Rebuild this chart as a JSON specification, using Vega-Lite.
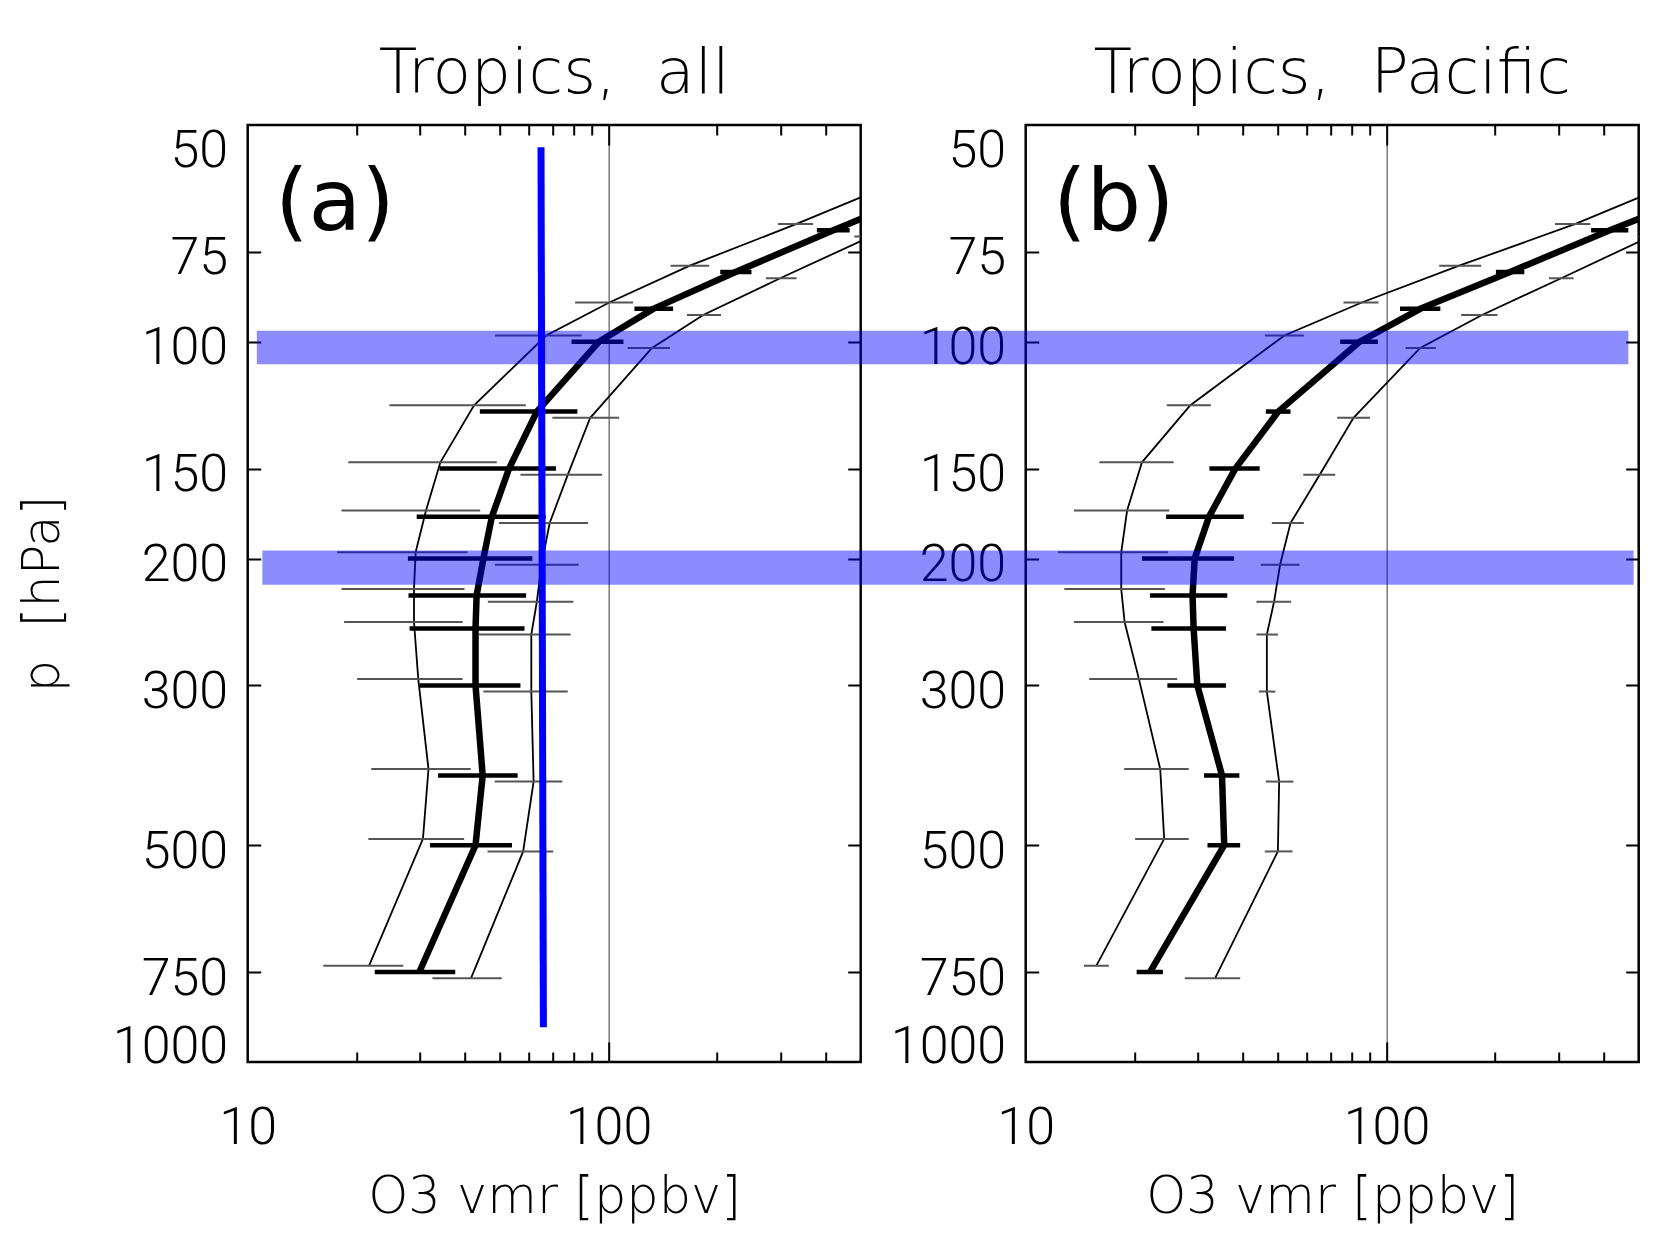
{
  "$schema": "https://vega.github.io/schema/vega-lite/v6.json",
  "autosize": {"type": "none"},
  "padding": {"left": 247.7, "top": 125, "right": 1412.3, "bottom": 1112},
  "background": "white",
  "config": {
    "view": {"stroke": "black", "strokeWidth": 2.5},
    "axis": {"domain": false, "grid": false, "labelFont": "Roboto", "labelFontWeight": 300, "labelFontSize": 52, "labelColor": "black", "tickColor": "black", "tickWidth": 2, "titleFont": "DejaVu Sans", "titleFontWeight": 200, "titleFontSize": 51, "titleColor": "black", "labelOverlap": false},
    "title": {"font": "DejaVu Sans", "fontWeight": 200, "fontSize": 63, "color": "black", "baseline": "alphabetic", "offset": 18, "anchor": "middle", "frame": "group"}
  },
  "datasets": {
    "prof": [
      {"panel": "a", "s": "mean", "p": 60, "v": 880, "lo": 800, "hi": 960},
      {"panel": "a", "s": "mean", "p": 70, "v": 420, "lo": 378, "hi": 466},
      {"panel": "a", "s": "mean", "p": 80, "v": 225, "lo": 204, "hi": 249},
      {"panel": "a", "s": "mean", "p": 90, "v": 133, "lo": 118, "hi": 151},
      {"panel": "a", "s": "mean", "p": 100, "v": 94, "lo": 79, "hi": 110},
      {"panel": "a", "s": "mean", "p": 125, "v": 63.3, "lo": 44, "hi": 82},
      {"panel": "a", "s": "mean", "p": 150, "v": 53, "lo": 34, "hi": 71.5},
      {"panel": "a", "s": "mean", "p": 175, "v": 47.5, "lo": 29.4, "hi": 67},
      {"panel": "a", "s": "mean", "p": 200, "v": 45, "lo": 27.8, "hi": 61.5},
      {"panel": "a", "s": "mean", "p": 225, "v": 43.1, "lo": 27.9, "hi": 59.1},
      {"panel": "a", "s": "mean", "p": 250, "v": 42.8, "lo": 28.1, "hi": 58.5},
      {"panel": "a", "s": "mean", "p": 300, "v": 42.8, "lo": 30, "hi": 57},
      {"panel": "a", "s": "mean", "p": 400, "v": 44.8, "lo": 33.7, "hi": 56},
      {"panel": "a", "s": "mean", "p": 500, "v": 42.8, "lo": 32, "hi": 54},
      {"panel": "a", "s": "mean", "p": 750, "v": 29.9, "lo": 22.5, "hi": 37.6},
      {"panel": "a", "s": "low", "p": 58.8, "v": 700, "lo": 640, "hi": 770},
      {"panel": "a", "s": "low", "p": 68.6, "v": 332, "lo": 295, "hi": 369},
      {"panel": "a", "s": "low", "p": 78.4, "v": 168, "lo": 148.6, "hi": 190},
      {"panel": "a", "s": "low", "p": 88.2, "v": 100.5, "lo": 80.8, "hi": 117},
      {"panel": "a", "s": "low", "p": 98, "v": 67.2, "lo": 48.5, "hi": 84.3},
      {"panel": "a", "s": "low", "p": 122.5, "v": 42.4, "lo": 24.7, "hi": 59},
      {"panel": "a", "s": "low", "p": 147, "v": 34.2, "lo": 19, "hi": 49},
      {"panel": "a", "s": "low", "p": 171.5, "v": 31.2, "lo": 18.2, "hi": 44.1},
      {"panel": "a", "s": "low", "p": 196, "v": 29.2, "lo": 17.7, "hi": 40.7},
      {"panel": "a", "s": "low", "p": 220.5, "v": 28.9, "lo": 18.2, "hi": 39.9},
      {"panel": "a", "s": "low", "p": 245, "v": 28.9, "lo": 18.5, "hi": 39.4},
      {"panel": "a", "s": "low", "p": 294, "v": 29.7, "lo": 20.1, "hi": 39.4},
      {"panel": "a", "s": "low", "p": 392, "v": 31.7, "lo": 22, "hi": 41.5},
      {"panel": "a", "s": "low", "p": 490, "v": 30.6, "lo": 21.6, "hi": 39.8},
      {"panel": "a", "s": "low", "p": 735, "v": 21.7, "lo": 16.2, "hi": 27},
      {"panel": "a", "s": "high", "p": 71.4, "v": 534, "lo": 480, "hi": 595},
      {"panel": "a", "s": "high", "p": 81.6, "v": 299, "lo": 273, "hi": 332},
      {"panel": "a", "s": "high", "p": 91.8, "v": 183, "lo": 165, "hi": 205},
      {"panel": "a", "s": "high", "p": 102, "v": 132, "lo": 113, "hi": 148},
      {"panel": "a", "s": "high", "p": 127.5, "v": 89, "lo": 69.9, "hi": 107},
      {"panel": "a", "s": "high", "p": 153, "v": 77.1, "lo": 57, "hi": 96},
      {"panel": "a", "s": "high", "p": 178.5, "v": 68.7, "lo": 49.7, "hi": 87.7},
      {"panel": "a", "s": "high", "p": 204, "v": 65.2, "lo": 48.4, "hi": 82.6},
      {"panel": "a", "s": "high", "p": 229.5, "v": 63.3, "lo": 46.3, "hi": 79.9},
      {"panel": "a", "s": "high", "p": 255, "v": 61.1, "lo": 43.7, "hi": 78.5},
      {"panel": "a", "s": "high", "p": 306, "v": 61.1, "lo": 45, "hi": 77.1},
      {"panel": "a", "s": "high", "p": 408, "v": 62, "lo": 48.4, "hi": 74.5},
      {"panel": "a", "s": "high", "p": 510, "v": 58, "lo": 46.2, "hi": 70.3},
      {"panel": "a", "s": "high", "p": 765, "v": 41.6, "lo": 32.5, "hi": 50.6},
      {"panel": "b", "s": "mean", "p": 60, "v": 900, "lo": 820, "hi": 980},
      {"panel": "b", "s": "mean", "p": 70, "v": 416, "lo": 369, "hi": 468},
      {"panel": "b", "s": "mean", "p": 80, "v": 220, "lo": 201, "hi": 241},
      {"panel": "b", "s": "mean", "p": 90, "v": 124, "lo": 109, "hi": 141},
      {"panel": "b", "s": "mean", "p": 100, "v": 84.2, "lo": 74.4, "hi": 94.6},
      {"panel": "b", "s": "mean", "p": 125, "v": 50.1, "lo": 46.3, "hi": 54.2},
      {"panel": "b", "s": "mean", "p": 150, "v": 38.1, "lo": 32.3, "hi": 44.5},
      {"panel": "b", "s": "mean", "p": 175, "v": 32.2, "lo": 24.5, "hi": 40.2},
      {"panel": "b", "s": "mean", "p": 200, "v": 29.4, "lo": 21, "hi": 37.8},
      {"panel": "b", "s": "mean", "p": 225, "v": 29, "lo": 22.1, "hi": 36.2},
      {"panel": "b", "s": "mean", "p": 250, "v": 29.2, "lo": 22.3, "hi": 35.9},
      {"panel": "b", "s": "mean", "p": 300, "v": 29.9, "lo": 24.7, "hi": 35.9},
      {"panel": "b", "s": "mean", "p": 400, "v": 35, "lo": 31.2, "hi": 39.1},
      {"panel": "b", "s": "mean", "p": 500, "v": 35.5, "lo": 31.9, "hi": 39.3},
      {"panel": "b", "s": "mean", "p": 750, "v": 22.1, "lo": 20.3, "hi": 24},
      {"panel": "b", "s": "low", "p": 58.8, "v": 700, "lo": 640, "hi": 770},
      {"panel": "b", "s": "low", "p": 68.6, "v": 334, "lo": 293, "hi": 367},
      {"panel": "b", "s": "low", "p": 78.4, "v": 159, "lo": 140, "hi": 183},
      {"panel": "b", "s": "low", "p": 88.2, "v": 85.4, "lo": 76, "hi": 95},
      {"panel": "b", "s": "low", "p": 98, "v": 52.1, "lo": 46, "hi": 59},
      {"panel": "b", "s": "low", "p": 122.5, "v": 28.6, "lo": 24.6, "hi": 32.6},
      {"panel": "b", "s": "low", "p": 147, "v": 21, "lo": 16, "hi": 25.7},
      {"panel": "b", "s": "low", "p": 171.5, "v": 19.1, "lo": 13.6, "hi": 25},
      {"panel": "b", "s": "low", "p": 196, "v": 18.4, "lo": 12.3, "hi": 24.8},
      {"panel": "b", "s": "low", "p": 220.5, "v": 18.4, "lo": 12.8, "hi": 24.3},
      {"panel": "b", "s": "low", "p": 245, "v": 18.8, "lo": 13.6, "hi": 24.1},
      {"panel": "b", "s": "low", "p": 294, "v": 20.6, "lo": 15, "hi": 26.3},
      {"panel": "b", "s": "low", "p": 392, "v": 23.6, "lo": 18.75, "hi": 28.3},
      {"panel": "b", "s": "low", "p": 490, "v": 24.2, "lo": 20.1, "hi": 28.3},
      {"panel": "b", "s": "low", "p": 735, "v": 15.7, "lo": 14.5, "hi": 17},
      {"panel": "b", "s": "high", "p": 71.4, "v": 538, "lo": 495, "hi": 585},
      {"panel": "b", "s": "high", "p": 81.6, "v": 305, "lo": 282, "hi": 330},
      {"panel": "b", "s": "high", "p": 91.8, "v": 184, "lo": 161, "hi": 203},
      {"panel": "b", "s": "high", "p": 102, "v": 124, "lo": 113, "hi": 137},
      {"panel": "b", "s": "high", "p": 127.5, "v": 81, "lo": 73, "hi": 90},
      {"panel": "b", "s": "high", "p": 153, "v": 65.3, "lo": 58.8, "hi": 72.1},
      {"panel": "b", "s": "high", "p": 178.5, "v": 54.2, "lo": 48.1, "hi": 59},
      {"panel": "b", "s": "high", "p": 204, "v": 50.7, "lo": 44.8, "hi": 57.4},
      {"panel": "b", "s": "high", "p": 229.5, "v": 48.8, "lo": 43.6, "hi": 54.4},
      {"panel": "b", "s": "high", "p": 255, "v": 46.6, "lo": 43.6, "hi": 50},
      {"panel": "b", "s": "high", "p": 306, "v": 46.6, "lo": 44.3, "hi": 49.2},
      {"panel": "b", "s": "high", "p": 408, "v": 50.4, "lo": 46.3, "hi": 55.2},
      {"panel": "b", "s": "high", "p": 510, "v": 50, "lo": 46, "hi": 54.9},
      {"panel": "b", "s": "high", "p": 765, "v": 33.5, "lo": 27.6, "hi": 39.3}
    ],
    "bands": [
      {"panel": "a", "x1": 10.6, "x2": 500, "p1": 96.5, "p2": 107.4},
      {"panel": "a", "x1": 10.98, "x2": 500, "p1": 194.9, "p2": 217.5},
      {"panel": "b", "x1": 3.49, "x2": 468, "p1": 96.5, "p2": 107.4},
      {"panel": "b", "x1": 3.49, "x2": 484, "p1": 194.9, "p2": 217.5}
    ],
    "blue": [
      {"v": 65, "p": 53.7},
      {"v": 66, "p": 895}
    ],
    "tags": [
      {"panel": "a", "t": "(a)", "v": 11.9, "p": 70},
      {"panel": "b", "t": "(b)", "v": 11.9, "p": 70}
    ]
  },
  "spacing": 165,
  "bounds": "flush",
  "hconcat": [
    {
      "width": 613,
      "height": 937,
      "title": {"text": "Tropics,\u00a0 all"},
      "resolve": {"axis": {"x": "independent", "y": "independent"}},
      "layer": [
        {
          "data": {"name": "prof"},
          "transform": [{"filter": "datum.panel == 'a' && datum.s == 'mean'"}],
          "mark": {"type": "line", "color": "black", "strokeWidth": 6.5, "clip": true, "strokeJoin": "round"},
          "encoding": {
            "x": {"field": "v", "type": "quantitative", "scale": {"type": "log", "domain": [10, 500], "nice": false}, "axis": {"orient": "bottom", "values": [20, 30, 40, 50, 60, 70, 80, 90, 200, 300, 400], "tickSize": -10, "labels": false, "title": null}},
            "y": {"field": "p", "type": "quantitative", "scale": {"type": "log", "domain": [50, 1000], "reverse": true, "nice": false}, "axis": {"orient": "left", "values": [75, 100, 150, 200, 300, 500, 750], "tickSize": -13, "labels": false, "title": null}},
            "order": {"field": "p", "type": "quantitative"}
          }
        },
        {
          "data": {"name": "prof"},
          "transform": [{"filter": "datum.panel == 'a' && datum.s == 'low'"}],
          "mark": {"type": "line", "color": "black", "strokeWidth": 1.8, "clip": true},
          "encoding": {
            "x": {"field": "v", "type": "quantitative", "scale": {"type": "log", "domain": [10, 500], "nice": false}, "axis": {"orient": "top", "values": [20, 30, 40, 50, 60, 70, 80, 90, 200, 300, 400], "tickSize": -10, "labels": false, "title": null}},
            "y": {"field": "p", "type": "quantitative", "scale": {"type": "log", "domain": [50, 1000], "reverse": true, "nice": false}, "axis": {"orient": "right", "values": [75, 100, 150, 200, 300, 500, 750], "tickSize": -13, "labels": false, "title": null}},
            "order": {"field": "p", "type": "quantitative"}
          }
        },
        {
          "data": {"name": "prof"},
          "transform": [{"filter": "datum.panel == 'a' && datum.s == 'high'"}],
          "mark": {"type": "line", "color": "black", "strokeWidth": 1.8, "clip": true},
          "encoding": {
            "x": {"field": "v", "type": "quantitative", "scale": {"type": "log", "domain": [10, 500], "nice": false}, "axis": {"orient": "bottom", "values": [100], "tickSize": -20, "labels": false, "title": null, "grid": true, "gridColor": "#7a7a7a", "gridWidth": 1.5}},
            "y": {"field": "p", "type": "quantitative", "scale": {"type": "log", "domain": [50, 1000], "reverse": true, "nice": false}, "axis": null},
            "order": {"field": "p", "type": "quantitative"}
          }
        },
        {
          "data": {"name": "prof"},
          "transform": [{"filter": "datum.panel == 'a' && datum.s == 'mean'"}],
          "mark": {"type": "rule", "color": "black", "strokeWidth": 4.5, "clip": true},
          "encoding": {
            "x": {"field": "lo", "type": "quantitative", "scale": {"type": "log", "domain": [10, 500], "nice": false}, "axis": {"orient": "top", "values": [100], "tickSize": -20, "labels": false, "title": null}},
            "x2": {"field": "hi"},
            "y": {"field": "p", "type": "quantitative", "scale": {"type": "log", "domain": [50, 1000], "reverse": true, "nice": false}, "axis": null}
          }
        },
        {
          "data": {"name": "prof"},
          "transform": [{"filter": "datum.panel == 'a' && datum.s != 'mean'"}],
          "mark": {"type": "rule", "color": "#555555", "strokeWidth": 2, "clip": true},
          "encoding": {
            "x": {"field": "lo", "type": "quantitative", "scale": {"type": "log", "domain": [10, 500], "nice": false}, "axis": null},
            "x2": {"field": "hi"},
            "y": {"field": "p", "type": "quantitative", "scale": {"type": "log", "domain": [50, 1000], "reverse": true, "nice": false}, "axis": null}
          }
        },
        {
          "data": {"name": "blue"},
          "mark": {"type": "line", "color": "#0000ff", "strokeWidth": 7},
          "encoding": {
            "x": {"field": "v", "type": "quantitative", "scale": {"type": "log", "domain": [10, 500], "nice": false}, "axis": null},
            "y": {"field": "p", "type": "quantitative", "scale": {"type": "log", "domain": [50, 1000], "reverse": true, "nice": false}, "axis": null},
            "order": {"field": "p", "type": "quantitative"}
          }
        },
        {
          "data": {"name": "bands"},
          "transform": [{"filter": "datum.panel == 'a'"}],
          "mark": {"type": "rect", "color": "#0000ff", "opacity": 0.45, "clip": false},
          "encoding": {
            "x": {"field": "x1", "type": "quantitative", "scale": {"type": "log", "domain": [10, 500], "nice": false}, "axis": {"orient": "bottom", "values": [10, 100], "format": "d", "ticks": false, "labelPadding": 40, "labelFlush": false, "title": "O3 vmr [ppbv]", "titleX": 306.5, "titleY": 150, "titleBaseline": "alphabetic"}},
            "x2": {"field": "x2"},
            "y": {"field": "p1", "type": "quantitative", "scale": {"type": "log", "domain": [50, 1000], "reverse": true, "nice": false}, "axis": {"orient": "left", "values": [50, 75, 100, 150, 200, 300, 500, 750, 1000], "format": "d", "ticks": false, "labelPadding": 20, "labelFlush": false, "labelLineHeight": 13, "labelBaseline": {"condition": [{"test": "datum.value == 50", "value": "top"}, {"test": "datum.value == 1000", "value": "alphabetic"}], "value": "line-top"}, "title": "p\u00a0 [hPa]", "titleX": -189.7, "titleY": 468.5, "titleBaseline": "alphabetic"}},
            "y2": {"field": "p2"}
          }
        },
        {
          "data": {"name": "tags"},
          "transform": [{"filter": "datum.panel == 'a'"}],
          "mark": {"type": "text", "font": "DejaVu Sans", "fontSize": 86, "align": "left", "baseline": "alphabetic", "color": "black"},
          "encoding": {
            "x": {"field": "v", "type": "quantitative", "scale": {"type": "log", "domain": [10, 500], "nice": false}, "axis": null},
            "y": {"field": "p", "type": "quantitative", "scale": {"type": "log", "domain": [50, 1000], "reverse": true, "nice": false}, "axis": null},
            "text": {"field": "t"}
          }
        }
      ]
    },
    {
      "width": 613,
      "height": 937,
      "title": {"text": "Tropics,\u00a0 Pacific"},
      "resolve": {"axis": {"x": "independent", "y": "independent"}},
      "layer": [
        {
          "data": {"name": "prof"},
          "transform": [{"filter": "datum.panel == 'b' && datum.s == 'mean'"}],
          "mark": {"type": "line", "color": "black", "strokeWidth": 6.5, "clip": true, "strokeJoin": "round"},
          "encoding": {
            "x": {"field": "v", "type": "quantitative", "scale": {"type": "log", "domain": [10, 500], "nice": false}, "axis": {"orient": "bottom", "values": [20, 30, 40, 50, 60, 70, 80, 90, 200, 300, 400], "tickSize": -10, "labels": false, "title": null}},
            "y": {"field": "p", "type": "quantitative", "scale": {"type": "log", "domain": [50, 1000], "reverse": true, "nice": false}, "axis": {"orient": "left", "values": [75, 100, 150, 200, 300, 500, 750], "tickSize": -13, "labels": false, "title": null}},
            "order": {"field": "p", "type": "quantitative"}
          }
        },
        {
          "data": {"name": "prof"},
          "transform": [{"filter": "datum.panel == 'b' && datum.s == 'low'"}],
          "mark": {"type": "line", "color": "black", "strokeWidth": 1.8, "clip": true},
          "encoding": {
            "x": {"field": "v", "type": "quantitative", "scale": {"type": "log", "domain": [10, 500], "nice": false}, "axis": {"orient": "top", "values": [20, 30, 40, 50, 60, 70, 80, 90, 200, 300, 400], "tickSize": -10, "labels": false, "title": null}},
            "y": {"field": "p", "type": "quantitative", "scale": {"type": "log", "domain": [50, 1000], "reverse": true, "nice": false}, "axis": {"orient": "right", "values": [75, 100, 150, 200, 300, 500, 750], "tickSize": -13, "labels": false, "title": null}},
            "order": {"field": "p", "type": "quantitative"}
          }
        },
        {
          "data": {"name": "prof"},
          "transform": [{"filter": "datum.panel == 'b' && datum.s == 'high'"}],
          "mark": {"type": "line", "color": "black", "strokeWidth": 1.8, "clip": true},
          "encoding": {
            "x": {"field": "v", "type": "quantitative", "scale": {"type": "log", "domain": [10, 500], "nice": false}, "axis": {"orient": "bottom", "values": [100], "tickSize": -20, "labels": false, "title": null, "grid": true, "gridColor": "#7a7a7a", "gridWidth": 1.5}},
            "y": {"field": "p", "type": "quantitative", "scale": {"type": "log", "domain": [50, 1000], "reverse": true, "nice": false}, "axis": null},
            "order": {"field": "p", "type": "quantitative"}
          }
        },
        {
          "data": {"name": "prof"},
          "transform": [{"filter": "datum.panel == 'b' && datum.s == 'mean'"}],
          "mark": {"type": "rule", "color": "black", "strokeWidth": 4.5, "clip": true},
          "encoding": {
            "x": {"field": "lo", "type": "quantitative", "scale": {"type": "log", "domain": [10, 500], "nice": false}, "axis": {"orient": "top", "values": [100], "tickSize": -20, "labels": false, "title": null}},
            "x2": {"field": "hi"},
            "y": {"field": "p", "type": "quantitative", "scale": {"type": "log", "domain": [50, 1000], "reverse": true, "nice": false}, "axis": null}
          }
        },
        {
          "data": {"name": "prof"},
          "transform": [{"filter": "datum.panel == 'b' && datum.s != 'mean'"}],
          "mark": {"type": "rule", "color": "#555555", "strokeWidth": 2, "clip": true},
          "encoding": {
            "x": {"field": "lo", "type": "quantitative", "scale": {"type": "log", "domain": [10, 500], "nice": false}, "axis": null},
            "x2": {"field": "hi"},
            "y": {"field": "p", "type": "quantitative", "scale": {"type": "log", "domain": [50, 1000], "reverse": true, "nice": false}, "axis": null}
          }
        },
        {
          "data": {"name": "bands"},
          "transform": [{"filter": "datum.panel == 'b'"}],
          "mark": {"type": "rect", "color": "#0000ff", "opacity": 0.45, "clip": false},
          "encoding": {
            "x": {"field": "x1", "type": "quantitative", "scale": {"type": "log", "domain": [10, 500], "nice": false}, "axis": {"orient": "bottom", "values": [10, 100], "format": "d", "ticks": false, "labelPadding": 40, "labelFlush": false, "title": "O3 vmr [ppbv]", "titleX": 306.5, "titleY": 150, "titleBaseline": "alphabetic"}},
            "x2": {"field": "x2"},
            "y": {"field": "p1", "type": "quantitative", "scale": {"type": "log", "domain": [50, 1000], "reverse": true, "nice": false}, "axis": {"orient": "left", "values": [50, 75, 100, 150, 200, 300, 500, 750, 1000], "format": "d", "ticks": false, "labelPadding": 20, "labelFlush": false, "labelLineHeight": 13, "labelBaseline": {"condition": [{"test": "datum.value == 50", "value": "top"}, {"test": "datum.value == 1000", "value": "alphabetic"}], "value": "line-top"}, "title": null}},
            "y2": {"field": "p2"}
          }
        },
        {
          "data": {"name": "tags"},
          "transform": [{"filter": "datum.panel == 'b'"}],
          "mark": {"type": "text", "font": "DejaVu Sans", "fontSize": 86, "align": "left", "baseline": "alphabetic", "color": "black"},
          "encoding": {
            "x": {"field": "v", "type": "quantitative", "scale": {"type": "log", "domain": [10, 500], "nice": false}, "axis": null},
            "y": {"field": "p", "type": "quantitative", "scale": {"type": "log", "domain": [50, 1000], "reverse": true, "nice": false}, "axis": null},
            "text": {"field": "t"}
          }
        }
      ]
    }
  ]
}
